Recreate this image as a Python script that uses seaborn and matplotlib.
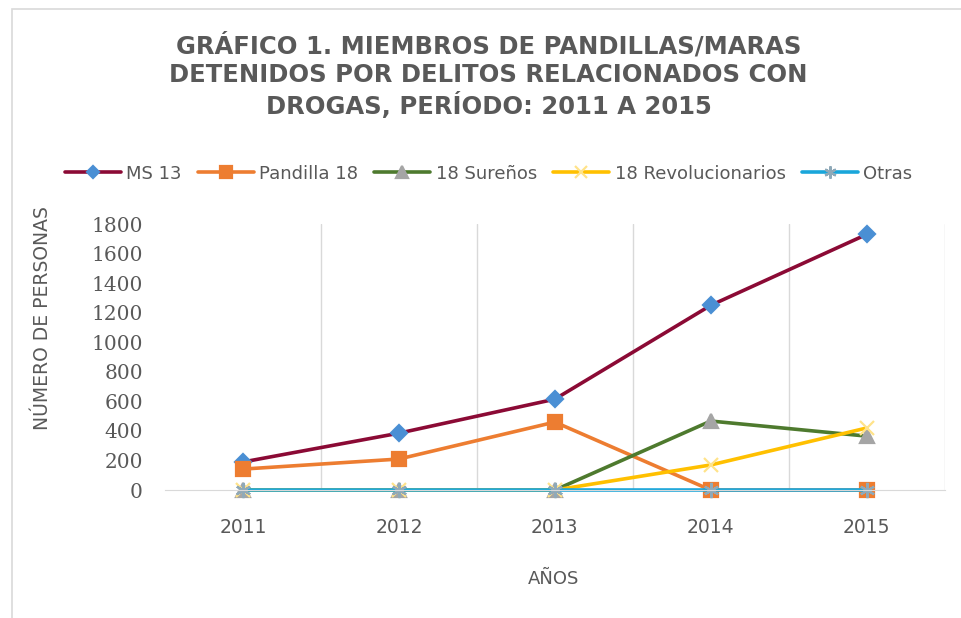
import matplotlib
matplotlib.use("Agg")
import matplotlib.pyplot as plt
import seaborn as sns
import pandas as pd
from matplotlib.patches import Rectangle

# Data
years = [2011, 2012, 2013, 2014, 2015]
ms13 = [190, 385, 615, 1250, 1730]
pandilla18 = [142, 210, 460, 0, 0]
surenos18 = [0, 0, 0, 467, 365]
revolucionarios18 = [0, 0, 0, 170, 420]
otras = [0, 0, 0, 0, 0]

series_names = ["MS 13", "Pandilla 18", "18 Sureños", "18 Revolucionarios", "Otras"]
series_values = [ms13, pandilla18, surenos18, revolucionarios18, otras]

# line colour, marker, marker face colour, marker size
styles = {
    "MS 13": ("#8B0A35", "D", "#4A8FD4", 8),
    "Pandilla 18": ("#ED7D31", "s", "#ED7D31", 10),
    "18 Sureños": ("#4E7A2E", "^", "#A5A5A5", 10),
    "18 Revolucionarios": ("#FFC000", "x", "#FFE38A", 10),
    "Otras": ("#1AA6DA", (6, 2, 0), "#8FA9B8", 11),
}

df = pd.DataFrame(
    [(n, y, v) for n, vals in zip(series_names, series_values) for y, v in zip(years, vals)],
    columns=["Serie", "Año", "Personas"],
)

sns.set_style("white")
plt.rcParams["font.family"] = ["DejaVu Sans"]

fig = plt.figure(figsize=(9.62, 6.18), dpi=100)
ax = fig.add_axes([0.1715, 0.207, 0.8105, 0.4305])

grey = "#595959"
for name in series_names:
    color, marker, mface, msize = styles[name]
    sub = df[df["Serie"] == name]
    sns.lineplot(
        data=sub, x="Año", y="Personas", ax=ax, color=color, linewidth=2.6,
        marker=marker, markersize=msize, markerfacecolor=mface,
        markeredgecolor=mface, markeredgewidth=1.6, label=name, clip_on=False,
    )

ax.set_xlim(2010.5, 2015.5)
ax.set_ylim(0, 1800)
ax.set_yticks(range(0, 1801, 200))
ax.set_xticks(years)
ax.set_xticklabels([str(y) for y in years], fontsize=13.5, color=grey)
for lab in ax.get_yticklabels():
    lab.set_fontfamily("DejaVu Serif")
    lab.set_fontsize(14.5)
    lab.set_color(grey)
ax.tick_params(axis="both", length=0)
ax.tick_params(axis="y", pad=16)
ax.tick_params(axis="x", pad=20)

# vertical gridlines between categories
for x in [2011.5, 2012.5, 2013.5, 2014.5, 2015.5]:
    ax.axvline(x, color="#D9D9D9", linewidth=1, zorder=0)

sns.despine(ax=ax, left=True, top=True, right=True)
ax.spines["bottom"].set_color("#D9D9D9")

ax.set_xlabel("AÑOS", fontsize=13, color=grey)
ax.xaxis.set_label_coords(0.498, -0.30)
ax.set_ylabel("NÚMERO DE PERSONAS", fontsize=13.5, color=grey)
ax.yaxis.set_label_coords(-0.145, 0.645)

ax.legend(
    loc="lower center", bbox_to_anchor=(0.415, 1.095), ncol=5, frameon=False,
    fontsize=13, handlelength=3.1, columnspacing=0.9, handletextpad=0.3,
    labelcolor=grey, markerscale=0.8,
)

title = "GRÁFICO 1. MIEMBROS DE PANDILLAS/MARAS\nDETENIDOS POR DELITOS RELACIONADOS CON\nDROGAS, PERÍODO: 2011 A 2015"
fig.text(0.508, 0.877, title, ha="center", va="center", fontsize=17.5,
         fontweight="bold", color=grey, linespacing=1.25)

# outer chart frame
fig.patches.append(Rectangle((0.012, -0.05), 1.2, 1.035, transform=fig.transFigure,
                             fill=False, edgecolor="#D9D9D9", linewidth=1.2))

fig.savefig("out.png", dpi=100)
